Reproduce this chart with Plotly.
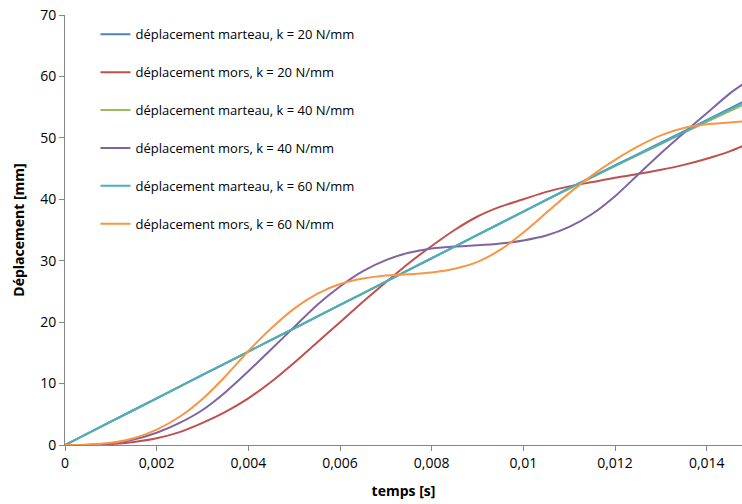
import plotly.graph_objects as go

# time samples [s]
t_hammer = [0, 0.001, 0.002, 0.003, 0.004, 0.005, 0.006, 0.007, 0.008, 0.009,
            0.010, 0.011, 0.012, 0.013, 0.014, 0.0148]
hammer_k20 = [0, 3.8, 7.6, 11.4, 15.2, 19.0, 22.8, 26.6, 30.4, 34.2, 38.0, 41.8, 45.5, 49.2, 52.9, 55.9]
hammer_k40 = [0, 3.8, 7.6, 11.4, 15.2, 19.0, 22.8, 26.6, 30.4, 34.2, 38.0, 41.7, 45.4, 49.0, 52.6, 55.4]
hammer_k60 = [0, 3.8, 7.6, 11.4, 15.2, 19.0, 22.8, 26.6, 30.4, 34.2, 38.0, 41.8, 45.5, 49.1, 52.8, 55.7]

t_jaw = [0, 0.0005, 0.001, 0.0015, 0.002, 0.0025, 0.003, 0.0035, 0.004, 0.0045,
         0.005, 0.0055, 0.006, 0.0065, 0.007, 0.0075, 0.008, 0.0085, 0.009, 0.0095,
         0.010, 0.0105, 0.011, 0.0115, 0.012, 0.0125, 0.013, 0.0135, 0.014, 0.0145, 0.0148]
jaw_k20 = [0, 0.02, 0.15, 0.5, 1.1, 2.1, 3.6, 5.4, 7.6, 10.3,
           13.4, 16.7, 20.0, 23.3, 26.5, 29.6, 32.4, 35.0, 37.2, 38.8,
           40.0, 41.2, 42.1, 42.8, 43.5, 44.1, 44.8, 45.6, 46.6, 47.8, 48.7]
jaw_k40 = [0, 0.03, 0.3, 0.9, 2.0, 3.6, 5.7, 8.6, 12.0, 15.6,
           19.2, 22.8, 25.8, 28.3, 30.1, 31.3, 32.0, 32.3, 32.5, 32.8,
           33.3, 34.1, 35.5, 37.6, 40.5, 44.0, 47.5, 50.8, 54.0, 57.2, 58.8]
jaw_k60 = [0, 0.05, 0.35, 1.1, 2.5, 4.6, 7.5, 11.2, 15.3, 19.0,
           22.2, 24.6, 26.2, 27.1, 27.6, 27.8, 28.1, 28.7, 29.8, 31.8,
           34.6, 37.8, 41.0, 43.9, 46.4, 48.6, 50.4, 51.6, 52.2, 52.5, 52.7]

x_tickvals = [0, 0.002, 0.004, 0.006, 0.008, 0.010, 0.012, 0.014]
x_ticktext = ["0", "0,002", "0,004", "0,006", "0,008", "0,01", "0,012", "0,014"]
y_tickvals = [0, 10, 20, 30, 40, 50, 60, 70]

series = [
    ("déplacement marteau, k = 20 N/mm", t_hammer, hammer_k20, "#4F81BD"),
    ("déplacement mors, k = 20 N/mm", t_jaw, jaw_k20, "#C0504D"),
    ("déplacement marteau, k = 40 N/mm", t_hammer, hammer_k40, "#9BBB59"),
    ("déplacement mors, k = 40 N/mm", t_jaw, jaw_k40, "#8064A2"),
    ("déplacement marteau, k = 60 N/mm", t_hammer, hammer_k60, "#4BACC6"),
    ("déplacement mors, k = 60 N/mm", t_jaw, jaw_k60, "#F79646"),
]

fig = go.Figure()
for i, (name, xs, ys, col) in enumerate(series):
    fig.add_trace(go.Scatter(x=xs, y=ys, mode="lines", name=name,
                             line=dict(color=col, width=2, shape="spline", smoothing=0.8),
                             legendgroup=f"g{i}"))

axis_common = dict(showgrid=False, zeroline=False, showline=True, linecolor="#868686",
                   linewidth=1, ticks="outside", ticklen=5, tickcolor="#868686",
                   automargin=False, ticklabeloverflow="allow",
                   tickfont=dict(size=14, color="#000000"))

fig.update_layout(
    width=742, height=504,
    margin=dict(l=65, r=0, t=15, b=59),
    paper_bgcolor="white", plot_bgcolor="white",
    font=dict(family="Open Sans", color="#000000"),
    showlegend=True,
    legend=dict(x=0.045, y=0.99, xanchor="left", yanchor="top",
                bgcolor="rgba(0,0,0,0)", font=dict(size=13),
                tracegroupgap=18, itemwidth=30),
    xaxis=dict(range=[0, 0.01477], tickvals=x_tickvals, ticktext=x_ticktext,
               title=dict(text="<b>temps [s]</b>", font=dict(size=14), standoff=15),
               **axis_common),
    yaxis=dict(range=[0, 70], tickvals=y_tickvals,
               title=dict(text="<b>Déplacement [mm]</b>", font=dict(size=14), standoff=12),
               **axis_common),
)

fig.write_html("out.html", config={"displayModeBar": False},
               post_script="document.body.style.margin='0px';document.body.style.overflow='hidden';")
